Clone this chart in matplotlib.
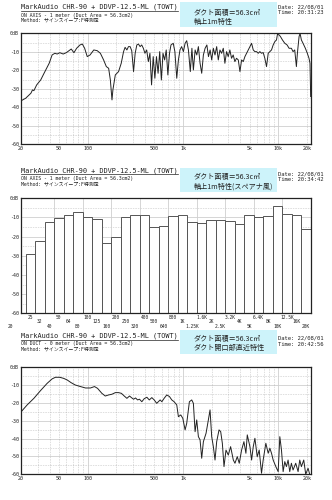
import numpy as np
import matplotlib.pyplot as plt
from matplotlib.patches import Rectangle
from matplotlib.lines import Line2D

MONO = ['DejaVu Sans Mono', 'Noto Sans CJK JP']
CJK = ['Noto Sans CJK JP', 'DejaVu Sans']

# ---- data -------------------------------------------------------------
# panel 1: on axis, 1 m
axis_freq = [20, 22.4, 25.4, 26.4, 27.3, 29.2, 32.2, 34.9, 39.5, 42.4,
             45.3, 47.9, 51.1, 55.4, 59.6, 63.6, 67.3, 71.8, 76.6, 83.1,
             88, 93, 99, 106, 116, 126, 136, 147, 157, 166,
             173, 180, 184, 195, 211, 225, 238, 247, 258, 268,
             279, 290, 303, 315, 328, 341, 355, 369, 384, 399,
             416, 433, 450, 468, 487, 507, 527, 548, 570, 593,
             617, 642, 667, 694, 722, 748, 790, 822, 860, 895,
             930, 967, 1010, 1052, 1094, 1140, 1193, 1240, 1285, 1340,
             1395, 1450, 1510, 1571, 1636, 1705, 1780, 1850, 1925, 2000,
             2080, 2165, 2255, 2345, 2440, 2540, 2645, 2750, 2865, 2980,
             3100, 3230, 3360, 3500, 3640, 3800, 3956, 4117, 4285, 4460,
             4640, 4830, 5035, 5241, 5455, 5677, 5910, 6150, 6400, 6660,
             6932, 7215, 7516, 7828, 8146, 8479, 8825, 9185, 9560, 9790,
             10200, 10530, 11040, 11680, 12350, 12960, 13700, 14260, 14850, 15460,
             15840, 16490, 16890, 17440, 18150, 19200, 20130, 20960, 21470, 21830]
axis_db = [-36.5, -35.1, -32.4, -30.6, -31.0, -27.9, -25.2, -21.6, -16.2, -11.7,
           -10.8, -11.2, -10.5, -11.2, -10.5, -9.4, -8.5, -10.5, -8.1, -6.3,
           -5.8, -8.1, -12.6, -11.7, -9.0, -9.4, -10.8, -14.4, -18.0, -18.9,
           -25.2, -36.0, -30.6, -22.5, -20.7, -16.2, -9.9, -7.6, -9.0, -7.2,
           -7.2, -9.4, -20.7, -10.8, -6.3, -5.8, -7.2, -6.3, -8.1, -10.8,
           -9.0, -15.3, -10.8, -27.9, -12.6, -24.3, -12.6, -21.6, -9.9, -25.2,
           -10.8, -14.4, -9.0, -22.5, -10.8, -6.3, -5.4, -9.9, -24.3, -14.4,
           -9.0, -7.2, -9.9, -5.4, -4.0, -9.0, -20.7, -8.1, -19.8, -9.0,
           -11.7, -7.2, -16.2, -21.6, -11.7, -8.1, -6.3, -12.6, -9.0, -14.4,
           -8.1, -11.7, -7.2, -14.4, -9.0, -10.8, -8.1, -16.2, -9.9, -12.6,
           -9.0, -13.5, -11.7, -15.3, -13.5, -14.4, -20.7, -14.4, -15.3, -12.6,
           -10.8, -9.0, -7.2, -5.4, -9.0, -9.9, -9.9, -10.8, -9.9, -10.8,
           -10.4, -13.5, -18.0, -10.8, -9.9, -9.0, -6.3, -4.5, -3.6, -0.5,
           -0.9, -1.8, -3.6, -5.4, -6.3, -8.1, -8.1, -9.9, -9.0, -18.0,
           -10.8, -1.8, 0.0, -3.6, -5.4, -8.1, -10.8, -13.5, -16.2, -34.2]

# panel 2: 1/3 octave bands, on axis
band_labels = ['25', '32', '40', '50', '64', '80', '100', '125', '160', '200', '250',
               '320', '400', '500', '640', '800', '1K', '1.25K', '1.6K', '2K', '2.5K',
               '3.2K', '4K', '5K', '6.4K', '8K', '10K', '12.5K', '16K', '20K']
band_db = [-29.2, -22.1, -12.5, -10.4, -8.9, -7.0, -9.9, -11.0, -23.5, -20.3, -9.6,
           -8.5, -8.5, -15.1, -14.3, -9.0, -8.9, -12.5, -13.0, -11.1, -11.5, -11.6,
           -13.4, -8.5, -9.6, -9.0, -4.2, -8.0, -8.9, -16.2]

# panel 3: at the duct opening
duct_freq = [20.1, 23.2, 27.3, 32, 37.6, 42.4, 45.9, 51, 56, 61,
             67, 74, 84, 95, 107, 118, 127, 141, 153, 166,
             180, 195, 211, 226, 242, 258, 275, 288, 303, 318,
             334, 350, 370, 392, 418, 443, 471, 499, 530, 576,
             600, 634, 676, 721, 763, 807, 860, 895, 948, 995,
             1052, 1094, 1167, 1235, 1285, 1339, 1393, 1450, 1510, 1571,
             1636, 1745, 1845, 1921, 2000, 2081, 2167, 2255, 2387, 2485,
             2586, 2692, 2824, 2986, 3158, 3371, 3508, 3709, 3890, 4117,
             4355, 4568, 4721, 5035, 5241, 5455, 5677, 6004, 6297, 6660,
             6932, 7393, 7828, 8146, 8479, 8825, 9412, 9955, 10362, 10784,
             11223, 11681, 12157, 12652, 13168, 13704, 14263, 15210, 16107, 16765,
             17448, 18464, 19364, 20487, 21322]
duct_db = [-24.9, -21.1, -17.4, -13.1, -9.0, -6.5, -5.6, -5.6, -6.2, -7.1,
           -8.6, -9.9, -10.8, -11.6, -11.6, -10.8, -11.8, -14.6, -16.1, -15.5,
           -15.1, -14.2, -14.2, -14.6, -16.1, -17.4, -16.1, -17.0, -17.9, -17.2,
           -18.3, -17.9, -19.3, -17.6, -16.8, -18.3, -17.0, -18.3, -20.2, -18.3,
           -19.3, -17.4, -15.5, -16.4, -18.3, -19.3, -21.1, -27.7, -26.7, -28.6,
           -35.1, -31.4, -19.3, -18.3, -20.2, -36.1, -29.5, -38.9, -40.7, -51.0,
           -41.7, -37.0, -29.5, -23.9, -38.9, -44.5, -52.0, -41.7, -35.1, -36.1,
           -42.6, -55.7, -46.4, -49.2, -44.5, -52.0, -53.8, -50.1, -53.8, -46.4,
           -41.7, -48.2, -37.9, -44.5, -52.0, -44.5, -39.8, -50.1, -46.4, -59.4,
           -52.0, -42.6, -48.2, -45.4, -48.2, -52.0, -55.7, -58.5, -38.9, -46.4,
           -58.5, -52.9, -55.7, -52.0, -58.5, -53.8, -57.6, -53.8, -58.5, -52.0,
           -55.7, -52.0, -60.0, -56.6, -60.0]

freq_ticks = [20, 50, 100, 500, 1000, 5000, 10000, 20000]
freq_tick_labels = ['20', '50', '100', '500', '1k', '5k', '10k', '20k']
db_ticks = [0, -10, -20, -30, -40, -50, -60]
db_tick_labels = ['0dB', '-10', '-20', '-30', '-40', '-50', '-60']

title_text = 'MarkAudio CHR-90 + DDVP-12.5-ML (TOWT)'
sub_lines = ['ON AXIS - 1 meter (Duct Area = 56.3cm2)',
             'ON AXIS - 1 meter (Duct Area = 56.3cm2)',
             'ON DUCT - 0 meter (Duct Area = 56.3cm2)']
method_text = 'Method: サインスイープ:F特測定'
box_line1 = 'ダクト面積＝56.3c㎡'
box_line2 = ['軸上1m特性', '軸上1m特性(スペアナ風)', 'ダクト開口部直近特性']
time_text = ['20:31:23', '20:34:42', '20:42:56']

W, H = 332, 500
BOX_COLOR = '#cdf3fa'
LINE_COLOR = '#222222'
TXT = '#222222'

fig = plt.figure(figsize=(W / 100, H / 100), dpi=100)


def fx(x):
    return x / W


def fy(y):
    return 1 - y / H


def header(i, y_title, y_sub, y_meth, box_top, box_bot, y_b1, y_b2, y_date, y_time):
    t = fig.text(fx(21), fy(y_title), title_text, family=MONO, fontsize=4.95,
                 va='center', ha='left', color=TXT)
    fig.canvas.draw()
    bb = t.get_window_extent()
    fig.add_artist(Line2D([bb.x0 / W, bb.x1 / W], [fy(y_title + 3.8)] * 2,
                          transform=fig.transFigure, color=TXT, lw=0.5))
    fig.text(fx(21), fy(y_sub), sub_lines[i], family=MONO, fontsize=3.55, va='center',
             color=TXT)
    fig.text(fx(21), fy(y_meth), method_text, family=MONO, fontsize=3.55, va='center',
             color=TXT)
    fig.add_artist(Rectangle((fx(180), fy(box_bot)), (277 - 180) / W,
                             (box_bot - box_top) / H, transform=fig.transFigure,
                             facecolor=BOX_COLOR, edgecolor='none'))
    fig.text(fx(194), fy(y_b1), box_line1, family=CJK, fontsize=5.1, va='center',
             color=TXT)
    fig.text(fx(194), fy(y_b2), box_line2[i], family=CJK, fontsize=5.1, va='center',
             color=TXT)
    fig.text(fx(278), fy(y_date), 'Date: 22/08/01', family=MONO, fontsize=4.0,
             va='center', color=TXT)
    fig.text(fx(278), fy(y_time), 'Time: ' + time_text[i], family=MONO, fontsize=4.0,
             va='center', color=TXT)


def style_db_axis(ax):
    ax.set_ylim(-60, 0)
    ax.set_yticks(db_ticks)
    ax.set_yticklabels(db_tick_labels, family=MONO, fontsize=3.6, color=TXT)
    for v in range(-50, 0, 10):
        ax.axhline(v, color='#cfcfcf', lw=0.6, zorder=0)
    for v in range(-55, 0, 10):
        ax.axhline(v, color='#9a9a9a', lw=0.4, ls=(0, (1, 2)), zorder=0)
    ax.tick_params(axis='both', length=0, pad=1.5)
    for s in ax.spines.values():
        s.set_linewidth(0.9)
        s.set_color(TXT)


def freq_axis(ax):
    ax.set_xscale('log')
    ax.set_xlim(20, 22000)
    ax.set_xticks(freq_ticks)
    ax.set_xticklabels(freq_tick_labels, family=MONO, fontsize=3.6, color=TXT)
    ax.minorticks_off()
    for dec in (10, 100, 1000, 10000):
        for m in range(1, 10):
            f = dec * m
            if f < 20 or f > 22000:
                continue
            if m == 1:
                ax.axvline(f, color='#cfcfcf', lw=0.6, zorder=0)
            else:
                ax.axvline(f, color='#9a9a9a', lw=0.4, ls=(0, (1, 2)), zorder=0)


def axes_at(top, bot):
    return fig.add_axes([fx(21), fy(bot), (311 - 21) / W, (bot - top) / H])


# ---- panel 1 ----------------------------------------------------------
header(0, 7.0, 15.0, 20.5, 2, 27, 12.5, 21.5, 7.0, 13.0)
ax1 = axes_at(33.3, 144.3)
style_db_axis(ax1)
freq_axis(ax1)
ax1.plot(axis_freq, np.clip(axis_db, -60, 0), color=LINE_COLOR, lw=0.7)

# ---- panel 2 ----------------------------------------------------------
header(1, 170.5, 178.5, 184.0, 168, 192, 177.0, 186.5, 173.5, 179.5)
ax2 = axes_at(198.3, 313.3)
style_db_axis(ax2)
idx = np.arange(len(band_db))
ax2.bar(idx, np.array(band_db) + 60, bottom=-60, width=1.0, color='white',
        edgecolor='#555555', linewidth=0.7, zorder=2)
ax2.set_xlim(-0.98, len(band_db) - 0.5)
ax2.set_xticks([])
for v in np.arange(2.5, 27, 3):
    ax2.axvline(v, color='#cfcfcf', lw=0.6, zorder=0)
row_y = [-62.0, -64.4, -66.9]
for i, lab in enumerate(band_labels):
    ax2.text(i, row_y[i % 3], lab, ha='center', va='center', family=MONO,
             fontsize=3.3, color=TXT, clip_on=False)
ax2.text(-2.05, row_y[2], '20', ha='center', va='center', family=MONO,
         fontsize=3.3, color=TXT, clip_on=False)

# ---- panel 3 ----------------------------------------------------------
header(2, 336.0, 344.0, 349.0, 330, 354, 339.0, 348.0, 338.5, 344.0)
ax3 = axes_at(367.3, 474.3)
style_db_axis(ax3)
freq_axis(ax3)
ax3.plot(duct_freq, np.clip(duct_db, -60, 0), color=LINE_COLOR, lw=0.7)

fig.savefig('out.png', dpi=100, facecolor='white')
